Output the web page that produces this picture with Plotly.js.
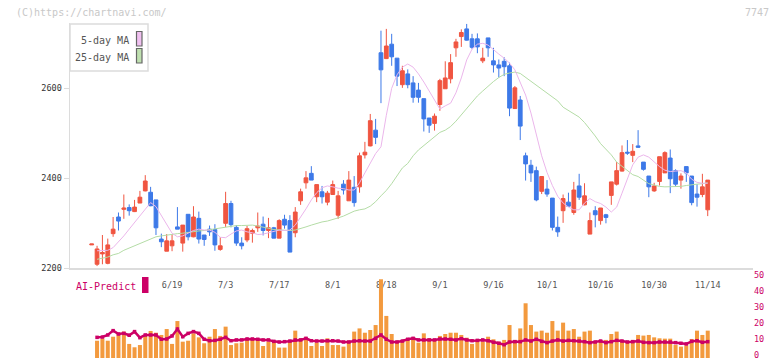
<!DOCTYPE html>
<html><head><meta charset="utf-8">
<script src="https://cdn.plot.ly/plotly-3.0.1.min.js"></script>
<style>html,body{margin:0;padding:0;background:#fff}#chart{width:772px;height:361px}</style>
</head><body><div id="chart"></div>
<script>
const dates=['5/29','5/30','6/2','6/3','6/4','6/5','6/6','6/9','6/10','6/11','6/12','6/13','6/16','6/17','6/18','6/19','6/20','6/23','6/24','6/25','6/26','6/27','6/30','7/1','7/2','7/3','7/4','7/7','7/8','7/9','7/10','7/11','7/14','7/15','7/16','7/17','7/18','7/22','7/23','7/24','7/25','7/28','7/29','7/30','7/31','8/1','8/4','8/5','8/6','8/7','8/8','8/12','8/13','8/14','8/15','8/18','8/19','8/20','8/21','8/22','8/25','8/26','8/27','8/28','8/29','9/1','9/2','9/3','9/4','9/5','9/8','9/9','9/10','9/11','9/12','9/16','9/17','9/18','9/19','9/22','9/24','9/25','9/26','9/29','9/30','10/1','10/2','10/3','10/6','10/7','10/8','10/9','10/10','10/14','10/15','10/16','10/17','10/20','10/21','10/22','10/23','10/24','10/27','10/28','10/29','10/30','10/31','11/4','11/5','11/6','11/7','11/10','11/11','11/12','11/13','11/14'];
const tickLabels=['6/19','7/3','7/17','8/1','8/18','9/1','9/16','10/1','10/16','10/30','11/14'];
const openP=[2252,2209,2232,2211,2277,2314,2331,2335,2326,2345,2372,2369,2352,2265,2238,2250,2292,2256,2320,2270,2311,2274,2287,2286,2242,2300,2344,2291,2256,2263,2278,2290,2298,2284,2290,2267,2309,2306,2279,2350,2390,2411,2359,2370,2347,2364,2318,2387,2350,2380,2381,2452,2472,2507,2679,2666,2698,2667,2608,2632,2612,2596,2577,2534,2522,2564,2599,2621,2690,2715,2732,2710,2710,2661,2712,2661,2652,2660,2650,2555,2574,2450,2429,2417,2371,2376,2356,2291,2328,2347,2324,2383,2341,2276,2328,2306,2319,2362,2387,2416,2458,2451,2472,2436,2405,2372,2393,2412,2445,2417,2396,2426,2405,2365,2364,2330];
const highP=[2254,2250,2274,2266,2314,2324,2364,2342,2352,2372,2407,2381,2352,2277,2276,2276,2336,2296,2320,2338,2326,2274,2295,2298,2269,2370,2350,2296,2269,2294,2288,2324,2315,2312,2292,2309,2319,2318,2336,2377,2416,2427,2386,2383,2372,2395,2372,2396,2416,2405,2457,2481,2543,2532,2728,2732,2721,2667,2650,2642,2627,2612,2577,2534,2544,2621,2660,2676,2710,2731,2743,2721,2722,2690,2712,2690,2664,2669,2657,2605,2583,2457,2441,2426,2404,2396,2356,2315,2364,2368,2392,2410,2389,2324,2338,2334,2321,2392,2436,2473,2485,2476,2507,2436,2405,2390,2448,2460,2464,2420,2411,2426,2405,2387,2410,2396];
const lowP=[2252,2205,2209,2209,2270,2284,2310,2317,2325,2345,2371,2338,2274,2247,2238,2238,2287,2237,2262,2269,2255,2250,2272,2239,2239,2292,2291,2250,2242,2258,2257,2281,2273,2267,2267,2267,2288,2236,2269,2341,2377,2396,2347,2344,2340,2363,2310,2364,2350,2337,2368,2444,2471,2476,2567,2665,2650,2605,2601,2600,2568,2568,2504,2501,2506,2550,2599,2611,2670,2692,2706,2687,2678,2656,2670,2635,2624,2627,2538,2554,2485,2395,2392,2349,2365,2359,2284,2270,2301,2338,2319,2352,2340,2276,2291,2297,2300,2341,2384,2415,2452,2436,2468,2417,2358,2370,2384,2412,2367,2383,2377,2392,2340,2337,2358,2316];
const closeP=[2254,2243,2235,2252,2287,2305,2334,2328,2336,2358,2394,2339,2290,2259,2261,2261,2287,2296,2270,2314,2265,2264,2281,2252,2250,2344,2297,2256,2250,2288,2284,2294,2284,2290,2267,2306,2296,2236,2325,2370,2401,2396,2386,2359,2367,2386,2361,2374,2396,2346,2450,2458,2528,2491,2641,2694,2670,2627,2639,2608,2580,2580,2532,2518,2538,2617,2623,2657,2703,2724,2707,2691,2692,2667,2690,2652,2645,2648,2556,2601,2516,2432,2412,2352,2404,2365,2291,2281,2355,2338,2374,2358,2361,2306,2319,2334,2313,2392,2417,2457,2456,2460,2469,2420,2381,2383,2448,2457,2399,2387,2405,2412,2346,2358,2381,2396];
const ma5=[null,2239,2239,2240,2246,2258,2272,2287,2302,2316,2332,2346,2337,2318,2296,2278,2270,2272,2278,2284,2287,2285,2285,2280,2269,2268,2276,2283,2285,2281,2279,2275,2276,2279,2281,2285,2284,2285,2296,2313,2332,2352,2368,2379,2383,2381,2378,2377,2374,2374,2390,2412,2435,2455,2470,2540,2600,2630,2647,2654,2647,2632,2614,2594,2574,2554,2561,2567,2590,2623,2663,2687,2698,2700,2696,2685,2676,2667,2656,2641,2612,2585,2545,2495,2450,2413,2384,2360,2345,2336,2330,2330,2345,2355,2348,2344,2336,2325,2336,2367,2401,2430,2447,2452,2447,2436,2426,2418,2415,2416,2417,2412,2398,2391,2389,2389];
const ma25=[null,2220,2223,2225,2230,2233,2240,2245,2250,2255,2261,2266,2270,2272,2274,2276,2277,2278,2280,2281,2283,2284,2286,2288,2290,2292,2294,2295,2295,2295,2296,2294,2292,2289,2286,2285,2284,2284,2285,2288,2292,2296,2300,2303,2305,2308,2312,2316,2322,2327,2330,2332,2338,2348,2361,2373,2388,2405,2423,2433,2450,2463,2473,2483,2494,2502,2507,2515,2527,2541,2556,2571,2583,2594,2605,2615,2624,2631,2634,2636,2633,2624,2615,2606,2599,2590,2581,2572,2558,2551,2543,2536,2524,2510,2494,2477,2465,2452,2436,2427,2418,2408,2404,2396,2388,2385,2382,2381,2381,2382,2382,2384,2386,2387,2388,2390];
const volume=[null,10.8,12.1,10.8,13.3,15.4,16.5,8.8,6.7,8.1,13.8,16.9,15.8,14.4,18.1,8.8,23.1,10.2,10.8,15.4,12.9,9.2,13.3,18.1,13.8,19.6,8.1,9.2,9.6,11.3,11.3,11.9,7.5,10.2,10.2,6.5,6.5,10.2,17.1,12.3,12.9,7.5,9.6,7.5,12.3,8.1,8.1,7.1,10.8,16.5,18.5,15.8,17.5,20.6,49.2,26.3,15,10.8,11,12.3,12.9,9.6,15.4,12.3,11.3,13.8,15,15.8,15.8,14.4,12.7,8.8,11.7,10.2,13.3,11.7,10.2,11.3,20.6,11.3,18.5,34.2,20.6,16.5,17.1,15.8,23.1,17.1,22.1,17.1,18.1,13.3,16.5,17.1,9.6,10.2,11.3,15,16.5,10.2,10.2,11.3,14.4,14,14.4,12.9,12.3,12.1,12.1,8.1,7.1,7.9,11.9,17.1,14.4,17.1];
const aiPredict=[null,12.9,13.1,14.4,17.1,15,15.4,14.2,16.5,12.7,14.4,14.4,14.4,11.7,11.9,13.8,18.1,13.3,15.4,16.5,15.4,11.7,10.8,11,11.7,12.9,10.8,11.3,11.3,11.9,11.9,11.7,11.3,11.3,10.4,10,10.2,10.6,11.3,11.3,12.3,10.8,10.6,10.6,10.8,10.8,10.6,10,10,10.6,10.8,10.6,10.6,12.3,14.4,11.7,10,10,10.6,11.7,12.3,11.3,11.3,11.3,11.3,11.9,11.9,11.7,11.3,12.1,11.3,10.8,11,11.3,10.8,9.8,9.2,8.3,10,10.2,10.2,11.3,10.6,11.7,10.4,9.6,10.6,11.3,10.6,11,10.8,10.6,10.2,9.6,10,10.6,9.6,10.2,11,10.6,10,10.2,10.6,9.8,9.6,9.6,10,10,10,9.6,9.2,8.8,10.4,10.8,9.8,10.2];
const volTicks=[0,10,20,30,40,50];

const W=772,H=361;
const px=v=>v/W, py=v=>(H-v)/H;
const mono='"DejaVu Sans Mono", "Liberation Mono", monospace';
const xr=[-4.05,123.45];
const dom=[px(70),px(753)];

const traces=[
 {type:'scatter',mode:'lines',x:dates,y:ma25,xaxis:'x',yaxis:'y',line:{color:'#b4dca6',width:1},hoverinfo:'skip'},
 {type:'scatter',mode:'lines',x:dates,y:ma5,xaxis:'x',yaxis:'y',line:{color:'#ebb6eb',width:1},hoverinfo:'skip'},
 {type:'candlestick',x:dates,open:openP,high:highP,low:lowP,close:closeP,xaxis:'x',yaxis:'y',
  increasing:{line:{color:'#f05540',width:1},fillcolor:'#f05540'},
  decreasing:{line:{color:'#3d79e8',width:1},fillcolor:'#3d79e8'},whiskerwidth:0,hoverinfo:'skip'},
 {type:'bar',x:dates,y:volume,xaxis:'x2',yaxis:'y2',marker:{color:'#f39a3e',line:{width:0}},hoverinfo:'skip'},
 {type:'scatter',mode:'lines+markers',x:dates,y:aiPredict,xaxis:'x2',yaxis:'y2',line:{color:'#cc0066',width:2.5},marker:{color:'#cc0066',size:3.5,symbol:'square'},hoverinfo:'skip'}
];

const layout={
 width:W,height:H,margin:{l:0,r:0,t:0,b:0},paper_bgcolor:'#fff',plot_bgcolor:'#fff',
 showlegend:false,hovermode:false,boxgap:0.3,boxgroupgap:0,bargap:0.25,
 xaxis:{domain:dom,anchor:'y',type:'category',categoryorder:'array',categoryarray:dates,range:xr,
   tickmode:'array',tickvals:tickLabels,ticktext:tickLabels,ticks:'outside',ticklen:8,tickcolor:'rgba(0,0,0,0)',
   tickfont:{family:mono,size:8.5,color:'#555'},showline:true,linecolor:'#dcdcdc',linewidth:1.5,showgrid:false,zeroline:false,
   rangeslider:{visible:false},fixedrange:true},
 xaxis3:{domain:dom,overlaying:'x',anchor:'y',range:[0,11],tickmode:'linear',tick0:0,dtick:1,ticks:'outside',ticklen:5,
   tickcolor:'#dcdcdc',tickwidth:1.5,showticklabels:false,showline:false,showgrid:false,zeroline:false},
 xaxis4:{domain:dom,overlaying:'x',anchor:'y',range:[0,11],tickmode:'linear',tick0:0,dtick:1,ticks:'inside',ticklen:3,
   tickcolor:'#dcdcdc',tickwidth:1.5,showticklabels:false,showline:false,showgrid:false,zeroline:false},
 yaxis:{domain:[py(268.3),py(23)],anchor:'x',range:[2200,2200+245.3/0.45],tickmode:'array',tickvals:[2200,2400,2600],
   ticks:'outside',ticklen:5,tickcolor:'#dcdcdc',tickwidth:1.5,tickfont:{family:mono,size:8.5,color:'#333'},
   showline:true,linecolor:'#dcdcdc',linewidth:1.5,showgrid:false,zeroline:false,fixedrange:true},
 xaxis2:{domain:dom,anchor:'y2',type:'category',categoryorder:'array',categoryarray:dates,range:xr,visible:false},
 yaxis2:{domain:[py(358),py(278)],anchor:'x2',side:'right',range:[0,50],tickmode:'array',tickvals:volTicks,ticks:'',
   ticklabeloverflow:'allow',ticklabelshift:-3,
   tickfont:{family:mono,size:8.5,color:'#cc0066'},showline:false,showgrid:false,zeroline:false},
 shapes:[
  {type:'rect',xref:'paper',yref:'paper',x0:px(70),x1:px(148),y0:py(71),y1:py(24),line:{color:'#dcdcdc',width:1.5},fillcolor:'#fff',layer:'above'},
  {type:'rect',xref:'paper',yref:'paper',x0:px(136.5),x1:px(142),y0:py(46),y1:py(31.5),line:{color:'#666',width:1.2},fillcolor:'#f0c0f0',layer:'above'},
  {type:'rect',xref:'paper',yref:'paper',x0:px(136.5),x1:px(142),y0:py(63),y1:py(48.5),line:{color:'#666',width:1.2},fillcolor:'#bfe0b0',layer:'above'},
  {type:'rect',xref:'paper',yref:'paper',x0:px(142),x1:px(148.5),y0:py(293),y1:py(277),line:{width:0},fillcolor:'#cc0066',layer:'above'}
 ],
 annotations:[
  {xref:'paper',yref:'paper',x:px(14),y:py(12.5),xanchor:'left',yanchor:'middle',showarrow:false,text:'(C)https://chartnavi.com/',font:{family:mono,size:10,color:'#c8c8c8'}},
  {xref:'paper',yref:'paper',x:px(771),y:py(12.5),xanchor:'right',yanchor:'middle',showarrow:false,text:'7747',font:{family:mono,size:10,color:'#c8c8c8'}},
  {xref:'paper',yref:'paper',x:px(131),y:py(40.5),xanchor:'right',yanchor:'middle',showarrow:false,text:'5-day MA',font:{family:mono,size:10,color:'#555'}},
  {xref:'paper',yref:'paper',x:px(131),y:py(57),xanchor:'right',yanchor:'middle',showarrow:false,text:'25-day MA',font:{family:mono,size:10,color:'#555'}},
  {xref:'paper',yref:'paper',x:px(74),y:py(286),xanchor:'left',yanchor:'middle',showarrow:false,text:'AI-Predict',font:{family:mono,size:10,color:'#cc0066'}}
 ]
};
Plotly.newPlot('chart',traces,layout,{staticPlot:true,displayModeBar:false});
</script></body></html>
